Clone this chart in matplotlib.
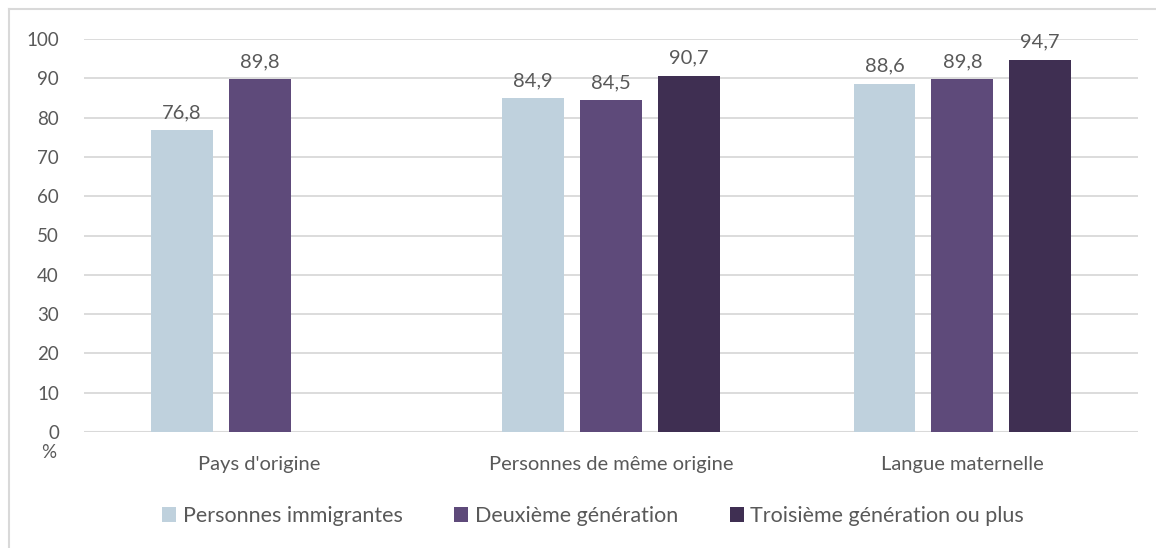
import matplotlib.pyplot as plt
import numpy as np

categories = ["Pays d'origine", "Personnes de même origine", "Langue maternelle"]
series = ["Personnes immigrantes", "Deuxième génération", "Troisième génération ou plus"]
immigrants = [76.8, 84.9, 88.6]
deuxieme = [89.8, 84.5, 89.8]
troisieme = [None, 90.7, 94.7]
colors = ["#BFD1DD", "#5E4A7A", "#3F2F52"]

plt.rcParams['font.family'] = ['Lato', 'DejaVu Sans']
txt = "#595959"

fig = plt.figure(figsize=(11.56, 5.48), dpi=100)
W, H = 1156, 548
ax = fig.add_axes([84 / W, 1 - 432 / H, (1138 - 84) / W, (432 - 39) / H])

# outer chart frame (top and left edges visible)
fig.add_artist(plt.Line2D([9 / W, 9 / W], [1 - 9 / H, 0], transform=fig.transFigure, color="#D9D9D9", lw=1.5))
fig.add_artist(plt.Line2D([9 / W, 1], [1 - 9 / H, 1 - 9 / H], transform=fig.transFigure, color="#D9D9D9", lw=1.5))

x = np.arange(len(categories))
step = 78 / 352
width = 62 / 352
for i, (vals, c, name) in enumerate(zip([immigrants, deuxieme, troisieme], colors, series)):
    xs = [xi + (i - 1) * step for xi, v in zip(x, vals) if v is not None]
    vs = [v for v in vals if v is not None]
    ax.bar(xs, vs, width=width, color=c, label=name, zorder=3)
    for xx, v in zip(xs, vs):
        ax.annotate(f"{v:.1f}".replace(".", ","), (xx, v), xytext=(0, 6.5), textcoords="offset points",
                    ha="center", va="bottom", fontsize=14.5, color=txt, zorder=4)

ax.set_xlim(-0.5, 2.5)
ax.set_ylim(0, 100)
ax.set_yticks(range(0, 101, 10))
ax.yaxis.grid(True, color="#D9D9D9", lw=1.3, zorder=0)
ax.set_axisbelow(True)
for s in ax.spines.values():
    s.set_visible(False)
ax.tick_params(axis="y", length=0, pad=18, labelsize=13.5, labelcolor=txt)
ax.set_xticks(x)
ax.set_xticklabels(categories)
ax.tick_params(axis="x", length=0, pad=17, labelsize=14.5, labelcolor=txt)
ax.axhline(0, color="#D9D9D9", lw=1.5, zorder=2)

fig.text(49 / W, 1 - 453 / H, "%", ha="center", va="center", fontsize=13.5, color=txt)

ax.legend(loc="center", bbox_to_anchor=(593 / W, 1 - 516 / H), bbox_transform=fig.transFigure,
          ncol=3, frameon=False, fontsize=15.5, labelcolor=txt, handlelength=0.65, handleheight=0.65,
          handletextpad=0.3, columnspacing=2.4)

fig.savefig("out.png", dpi=100)
